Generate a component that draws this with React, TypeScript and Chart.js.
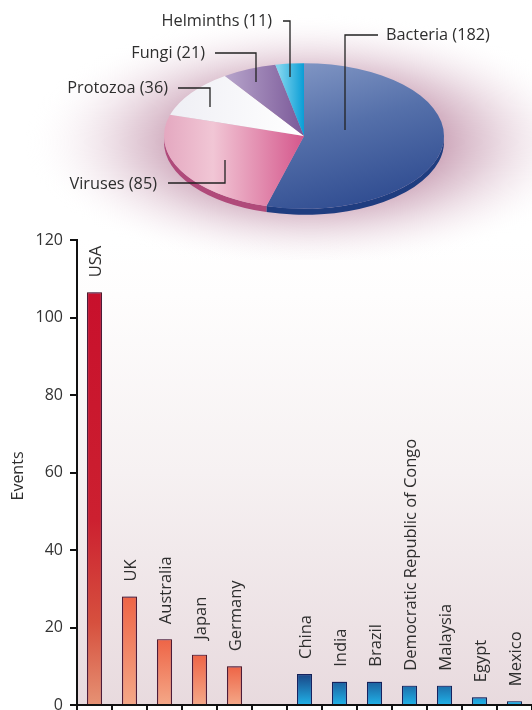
import React, { useEffect, useRef } from 'react';
import { Chart, registerables } from 'chart.js';

Chart.register(...registerables);

// ---------- data ----------
const pieLabels = ['Bacteria', 'Viruses', 'Protozoa', 'Fungi', 'Helminths'];
const pieValues = [182, 85, 36, 21, 11];

const countries = [
  'USA', 'UK', 'Australia', 'Japan', 'Germany', '',
  'China', 'India', 'Brazil', 'Democratic Republic of Congo', 'Malaysia', 'Egypt', 'Mexico',
];
const events: (number | null)[] = [106.5, 28, 17, 13, 10, null, 8, 6, 6, 5, 5, 2, 1];
const groups = ['high', 'high', 'high', 'high', 'high', '', 'low', 'low', 'low', 'low', 'low', 'low', 'low'];
const yTicks = [0, 20, 40, 60, 80, 100, 120];
const yTitle = 'Events';

// ---------- style ----------
const FONT = '"Open Sans", "DejaVu Sans", sans-serif';
const TEXT = '#2e2e2e';

// label layout for the pie annotations (text anchor, leader polyline)
const pieLabelLayout = [
  { align: 'left', tx: 386, ty: 35, line: [[378, 35], [345, 35], [345, 130]] },
  { align: 'right', tx: 157, ty: 184, line: [[168, 183], [225, 183], [225, 160]] },
  { align: 'right', tx: 168, ty: 88, line: [[178, 88], [210, 88], [210, 107]] },
  { align: 'right', tx: 205, ty: 53, line: [[215, 53], [256, 53], [256, 82]] },
  { align: 'right', tx: 272, ty: 21, line: [[283, 21], [290, 21], [290, 77]] },
];

function PieChart() {
  const ref = useRef<HTMLCanvasElement>(null);
  useEffect(() => {
    const K = 0.52;
    const DEPTH = 6;
    const sideColors = ['#1f3d80', '#b04a7a', '#d8d8e0', '#6a4a88', '#0a8ac0'];

    const sliceFill = (c: any) => {
      const chart = c.chart;
      const ca = chart.chartArea;
      const i = c.dataIndex;
      const fallback = ['#4a66a4', '#e6a0bc', '#ffffff', '#9a80b0', '#40b8e0'][i];
      if (!ca) return fallback;
      const ctx = chart.ctx;
      const cx = (ca.left + ca.right) / 2;
      const cy = (ca.top + ca.bottom) / 2;
      let g: CanvasGradient;
      if (i === 0) {
        g = ctx.createLinearGradient(cx - 10, cy - 140, cx + 140, cy + 140);
        g.addColorStop(0, '#8196c4');
        g.addColorStop(0.4, '#5570aa');
        g.addColorStop(1, '#26438a');
      } else if (i === 1) {
        g = ctx.createLinearGradient(cx - 140, cy, cx, cy);
        g.addColorStop(0, '#e4a8c0');
        g.addColorStop(0.35, '#f1c6d5');
        g.addColorStop(1, '#d5578c');
      } else if (i === 2) {
        g = ctx.createLinearGradient(cx - 140, cy, cx, cy);
        g.addColorStop(0, '#eeeef4');
        g.addColorStop(1, '#ffffff');
      } else if (i === 3) {
        g = ctx.createLinearGradient(cx - 80, cy, cx, cy);
        g.addColorStop(0, '#b8a6cc');
        g.addColorStop(1, '#7a5898');
      } else {
        g = ctx.createLinearGradient(cx - 25, cy, cx, cy);
        g.addColorStop(0, '#7fd4ee');
        g.addColorStop(1, '#0a9ed6');
      }
      return g;
    };

    const piePlugin = {
      id: 'pie3d',
      beforeDraw(chart: any) {
        const { ctx, chartArea: ca } = chart;
        const cx = (ca.left + ca.right) / 2;
        const cy = (ca.top + ca.bottom) / 2;
        ctx.save();
        ctx.translate(cx + 6, cy + 6);
        ctx.scale(1, 0.45);
        const g = ctx.createRadialGradient(0, 0, 120, 0, 0, 285);
        g.addColorStop(0, 'rgba(165,95,130,0.62)');
        g.addColorStop(0.35, 'rgba(185,130,158,0.38)');
        g.addColorStop(0.7, 'rgba(215,180,198,0.14)');
        g.addColorStop(1, 'rgba(255,255,255,0)');
        ctx.fillStyle = g;
        ctx.fillRect(-600, -700, 1200, 1400);
        ctx.restore();
      },
      beforeDatasetsDraw(chart: any) {
        const { ctx } = chart;
        const meta = chart.getDatasetMeta(0);
        meta.data.forEach((arc: any, i: number) => {
          const a = Math.max(arc.startAngle, 0);
          const b = Math.min(arc.endAngle, Math.PI);
          if (a >= b) return;
          const R = arc.outerRadius;
          ctx.save();
          ctx.beginPath();
          ctx.ellipse(arc.x, arc.y, R, R * K, 0, a, b);
          ctx.ellipse(arc.x, arc.y + DEPTH, R, R * K, 0, b, a, true);
          ctx.closePath();
          ctx.fillStyle = sideColors[i];
          ctx.fill();
          ctx.restore();
        });
        const arc0 = meta.data[0];
        ctx.save();
        ctx.translate(arc0.x, arc0.y);
        ctx.scale(1, K);
        ctx.translate(-arc0.x, -arc0.y);
      },
      afterDatasetsDraw(chart: any) {
        chart.ctx.restore();
      },
      afterDraw(chart: any) {
        const { ctx } = chart;
        ctx.save();
        ctx.font = `16.3px ${FONT}`;
        ctx.fillStyle = TEXT;
        ctx.textBaseline = 'middle';
        ctx.strokeStyle = '#222';
        ctx.lineWidth = 1.3;
        pieLabelLayout.forEach((l, i) => {
          ctx.textAlign = l.align as CanvasTextAlign;
          ctx.fillText(`${pieLabels[i]} (${pieValues[i]})`, l.tx, l.ty);
          ctx.beginPath();
          l.line.forEach(([x, y], j) => (j === 0 ? ctx.moveTo(x, y) : ctx.lineTo(x, y)));
          ctx.stroke();
        });
        ctx.restore();
      },
    };

    const chart = new Chart(ref.current!, {
      type: 'pie',
      data: {
        labels: pieLabels,
        datasets: [{ data: pieValues, backgroundColor: sliceFill as any, borderWidth: 0, clip: false as any }],
      },
      options: {
        responsive: false,
        animation: false,
        events: [],
        radius: 140,
        layout: { padding: { left: 76, right: 0, top: 40, bottom: 28 } },
        plugins: { legend: { display: false }, tooltip: { enabled: false } },
      } as any,
      plugins: [piePlugin],
    });
    return () => chart.destroy();
  }, []);
  return (
    <canvas
      ref={ref}
      width={532}
      height={260}
      style={{ position: 'absolute', left: 0, top: 0, width: 532, height: 260 }}
    />
  );
}

function BarChart() {
  const ref = useRef<HTMLCanvasElement>(null);
  useEffect(() => {
    const barFill = (c: any) => {
      const chart = c.chart;
      const i = c.dataIndex;
      const v = events[i];
      const ca = chart.chartArea;
      if (v == null) return 'rgba(0,0,0,0)';
      if (!ca || !chart.scales.y) return groups[i] === 'high' ? '#ee6a4c' : '#1e70b0';
      const ys = chart.scales.y;
      const top = ys.getPixelForValue(v);
      const bot = ys.getPixelForValue(0);
      const ctx = chart.ctx;
      if (groups[i] === 'high') {
        const g = ctx.createLinearGradient(0, top, 0, bot);
        if (i === 0) {
          g.addColorStop(0, '#c8102c');
          g.addColorStop(0.55, '#cc2030');
          g.addColorStop(0.8, '#d6503e');
          g.addColorStop(1, '#e69274');
        } else {
          g.addColorStop(0, '#ee6446');
          g.addColorStop(1, '#f4a888');
        }
        return g;
      }
      const g = ctx.createLinearGradient(0, bot - 31, 0, bot);
      g.addColorStop(0, '#1a4585');
      g.addColorStop(1, '#20b2e8');
      return g;
    };

    const bgPlugin = {
      id: 'bg',
      beforeDraw(chart: any) {
        const { ctx, chartArea: ca } = chart;
        const g = ctx.createLinearGradient(0, ca.top, 0, ca.bottom);
        g.addColorStop(0, '#ffffff');
        g.addColorStop(0.12, '#fefdfd');
        g.addColorStop(0.5, '#f6f1f2');
        g.addColorStop(1, '#e8dade');
        ctx.save();
        ctx.fillStyle = g;
        ctx.fillRect(ca.left, ca.top, ca.right - ca.left, ca.bottom - ca.top);
        ctx.restore();
      },
    };

    const shadowPlugin = {
      id: 'barShadow',
      beforeDatasetsDraw(chart: any) {
        const ctx = chart.ctx;
        ctx.save();
        ctx.shadowColor = 'rgba(45,35,130,0.75)';
        ctx.shadowBlur = 6;
      },
      afterDatasetsDraw(chart: any) {
        chart.ctx.restore();
      },
    };

    const labelPlugin = {
      id: 'barLabels',
      afterDraw(chart: any) {
        const { ctx } = chart;
        const meta = chart.getDatasetMeta(0);
        ctx.save();
        ctx.font = `16.5px ${FONT}`;
        ctx.fillStyle = TEXT;
        meta.data.forEach((el: any, i: number) => {
          if (events[i] == null || !countries[i]) return;
          ctx.save();
          ctx.translate(el.x + 1.5, el.y - 15);
          ctx.rotate(-Math.PI / 2);
          ctx.textAlign = 'left';
          ctx.textBaseline = 'middle';
          ctx.fillText(countries[i], 0, 0);
          ctx.restore();
        });
        ctx.font = `16px ${FONT}`;
        ctx.save();
        ctx.translate(18, 476);
        ctx.rotate(-Math.PI / 2);
        ctx.textAlign = 'center';
        ctx.textBaseline = 'middle';
        ctx.fillText(yTitle, 0, 0);
        ctx.restore();
        ctx.restore();
      },
    };

    const chart = new Chart(ref.current!, {
      type: 'bar',
      data: {
        labels: countries,
        datasets: [
          {
            data: events,
            backgroundColor: barFill as any,
            borderColor: ((c: any) => (groups[c.dataIndex] === 'high' ? '#5a1818' : '#0e2250')) as any,
            borderWidth: 1.2,
            barPercentage: 0.43,
            categoryPercentage: 1,
          },
        ],
      },
      options: {
        responsive: false,
        animation: false,
        events: [],
        layout: { padding: { top: 240, right: 0, bottom: 0, left: 0 } },
        plugins: { legend: { display: false }, tooltip: { enabled: false } },
        scales: {
          x: {
            offset: true,
            z: 1,
            grid: { offset: true, drawOnChartArea: false, drawTicks: true, tickLength: 6, color: '#111', lineWidth: 2 },
            border: { display: true, color: '#111', width: 2 },
            ticks: { display: false },
            afterFit: (s: any) => {
              s.height = 5;
              s.paddingLeft = 0; s.paddingRight = 0; s.paddingTop = 0; s.paddingBottom = 0;
            },
          },
          y: {
            min: 0,
            max: 120,
            z: 1,
            afterBuildTicks: (s: any) => { s.ticks = yTicks.map((v) => ({ value: v })); },
            ticks: { font: { family: FONT, size: 16 }, color: '#333', padding: 7 },
            grid: { drawOnChartArea: false, drawTicks: true, tickLength: 7, color: '#111', lineWidth: 2 },
            border: { display: true, color: '#111', width: 2 },
            afterFit: (s: any) => {
              s.width = 77;
              s.paddingTop = 0; s.paddingBottom = 0; s.paddingLeft = 0; s.paddingRight = 0;
            },
          },
        },
      } as any,
      plugins: [bgPlugin, shadowPlugin, labelPlugin],
    });
    return () => chart.destroy();
  }, []);
  return (
    <canvas
      ref={ref}
      width={532}
      height={710}
      style={{ position: 'absolute', left: 0, top: 0, width: 532, height: 710 }}
    />
  );
}

export default function App() {
  return (
    <div style={{ position: 'absolute', left: 0, top: 0, width: 532, height: 710, background: '#fff', overflow: 'hidden' }}>
      <BarChart />
      <PieChart />
    </div>
  );
}
